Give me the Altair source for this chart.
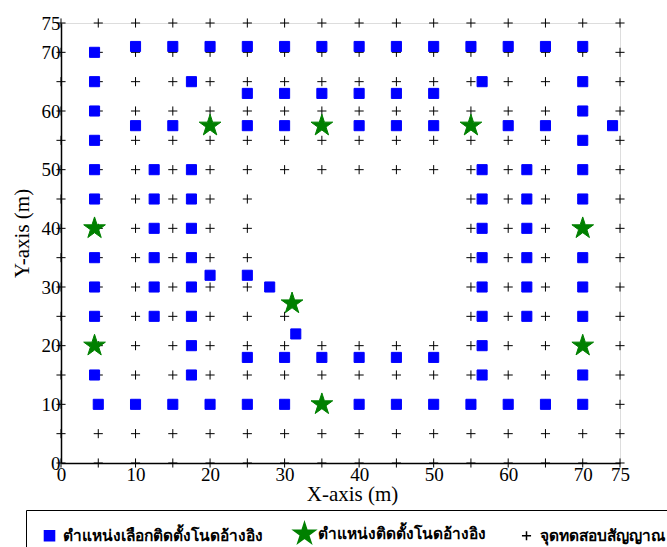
import altair as alt
import pandas as pd

SQ = "ตำแหน่งเลือกติดตั้งโนดอ้างอิง"
ST = "ตำแหน่งติดตั้งโนดอ้างอิง"
PL = "จุดทดสอบสัญญาณ"

# candidate reference-node positions (blue squares)
square_x = [4.5, 4.5, 4.5, 4.5, 4.5, 4.5, 4.5, 4.5, 4.5, 4.5,
            10, 15, 20, 25, 30, 35, 40, 45, 50, 55, 60, 65, 70,
            17.5, 56.5,
            25, 30, 35, 40, 45, 50,
            10, 15, 25, 30, 40, 45, 50, 60, 65, 74,
            70, 70, 70, 70, 70, 70, 70, 70, 70,
            12.5, 12.5, 12.5, 12.5, 12.5, 12.5,
            17.5, 17.5, 17.5, 17.5, 17.5, 17.5, 17.5, 17.5,
            56.5, 56.5, 56.5, 56.5, 56.5, 56.5, 56.5, 56.5,
            62.5, 62.5, 62.5, 62.5, 62.5, 62.5,
            20, 25, 28, 31.5,
            25, 30, 35, 40, 45, 50,
            5, 10, 15, 20, 25, 30, 40, 45, 50, 55, 60, 65, 70]
square_y = [70, 65, 60, 55, 50, 45, 35, 30, 25, 15,
            71, 71, 71, 71, 71, 71, 71, 71, 71, 71, 71, 71, 71,
            65, 65,
            63, 63, 63, 63, 63, 63,
            57.5, 57.5, 57.5, 57.5, 57.5, 57.5, 57.5, 57.5, 57.5, 57.5,
            65, 60, 55, 50, 45, 35, 30, 25, 15,
            50, 45, 40, 35, 30, 25,
            50, 45, 40, 35, 30, 25, 20, 15,
            50, 45, 40, 35, 30, 25, 20, 15,
            50, 45, 40, 35, 30, 25,
            32, 32, 30, 22,
            18, 18, 18, 18, 18, 18,
            10, 10, 10, 10, 10, 10, 10, 10, 10, 10, 10, 10, 10]

# installed reference nodes (green stars)
star_x = [20, 35, 55, 4.5, 70, 31, 4.5, 70, 35]
star_y = [57.5, 57.5, 57.5, 40, 40, 27.2, 20, 20, 10]

# signal test points (black plus signs)
grid_cols = [0, 5, 10, 15, 20, 25, 30, 35, 40, 45, 50, 55, 60, 65, 70, 75]
grid_rows = [0, 5, 10, 15, 20, 25, 30, 35, 40, 45, 50, 55, 60, 65, 70, 75]
plus_gaps = {45: [30, 35, 40, 45, 50], 40: [30, 35, 40, 45, 50],
             35: [30, 35, 40, 45, 50], 30: [30, 35, 40, 45, 50],
             25: [35, 40, 45, 50]}

x_ticks = [0, 10, 20, 30, 40, 50, 60, 70, 75]
y_ticks = [0, 10, 20, 30, 40, 50, 60, 70, 75]

rows = []
for yy in grid_rows:
    for xx in grid_cols:
        if xx not in plus_gaps.get(yy, []):
            rows.append({"x": xx, "y": yy, "kind": PL, "z": 0})
for xx, yy in zip(square_x, square_y):
    rows.append({"x": xx, "y": yy, "kind": SQ, "z": 1})
for xx, yy in zip(star_x, star_y):
    rows.append({"x": xx, "y": yy, "kind": ST, "z": 2})
df = pd.DataFrame(rows)

SQUARE_PATH = "M-0.42,-0.42L0.42,-0.42L0.42,0.42L-0.42,0.42Z"
STAR_PATH = ("M0,-0.95L0.214,-0.294L0.903,-0.294L0.345,0.112L0.559,0.769L0,0.363"
             "L-0.559,0.769L-0.345,0.112L-0.903,-0.294L-0.214,-0.294Z")
PLUS_PATH = "M-0.38,0L0.38,0M0,-0.38L0,0.38"
dom = [SQ, ST, PL]
SERIF = "Liberation Serif"

leg = alt.Legend(title=None, orient="none", legendX=-35, legendY=487,
                 direction="horizontal", strokeColor="black", padding=10.5,
                 labelFontSize=15.5, labelFontWeight="bold", labelColor="black",
                 labelOffset=0, columnPadding=28, symbolStrokeWidth=1.5,
                 symbolSize=576, labelLimit=400)

chart = alt.Chart(df).mark_point(strokeWidth=1, opacity=1, size=576).encode(
    x=alt.X("x:Q", scale=alt.Scale(domain=[0, 75], nice=False, zero=False),
            axis=alt.Axis(values=x_ticks, ticks=False, grid=False, labelFont=SERIF,
                          labelFontSize=19, labelPadding=2, labelColor="black",
                          title="X-axis (m)", titleFont=SERIF, titleFontSize=21,
                          titleFontWeight="normal", titleColor="black",
                          titleX=291, titleY=20, titleBaseline="top",
                          domainColor="black", domainWidth=1.5, labelFlush=False)),
    y=alt.Y("y:Q", scale=alt.Scale(domain=[0, 75], nice=False, zero=False),
            axis=alt.Axis(values=y_ticks, ticks=False, grid=False, labelFont=SERIF,
                          labelFontSize=19, labelPadding=1, labelColor="black",
                          title="Y-axis (m)", titleFont=SERIF, titleFontSize=21,
                          titleFontWeight="normal", titleColor="black",
                          titleX=-39, titleY=210, titleBaseline="middle",
                          domainColor="black", domainWidth=1.5, labelFlush=False)),
    shape=alt.Shape("kind:N", scale=alt.Scale(domain=dom, range=[SQUARE_PATH, STAR_PATH, PLUS_PATH]), legend=leg),
    fill=alt.Fill("kind:N", scale=alt.Scale(domain=dom, range=["#0000ff", "#008000", "transparent"]), legend=leg),
    stroke=alt.Stroke("kind:N", scale=alt.Scale(domain=dom, range=["#0000ff", "#008000", "black"]), legend=leg),
    order=alt.Order("z:Q"),
).properties(
    width=559, height=440,
    autosize=alt.AutoSizeParams(type="none"),
    padding={"left": 61, "top": 23, "right": 47, "bottom": 84},
).configure_view(stroke="black", strokeWidth=1.5).configure(background="white")

chart.save("out.html", embed_options={"renderer": "svg", "actions": False})
